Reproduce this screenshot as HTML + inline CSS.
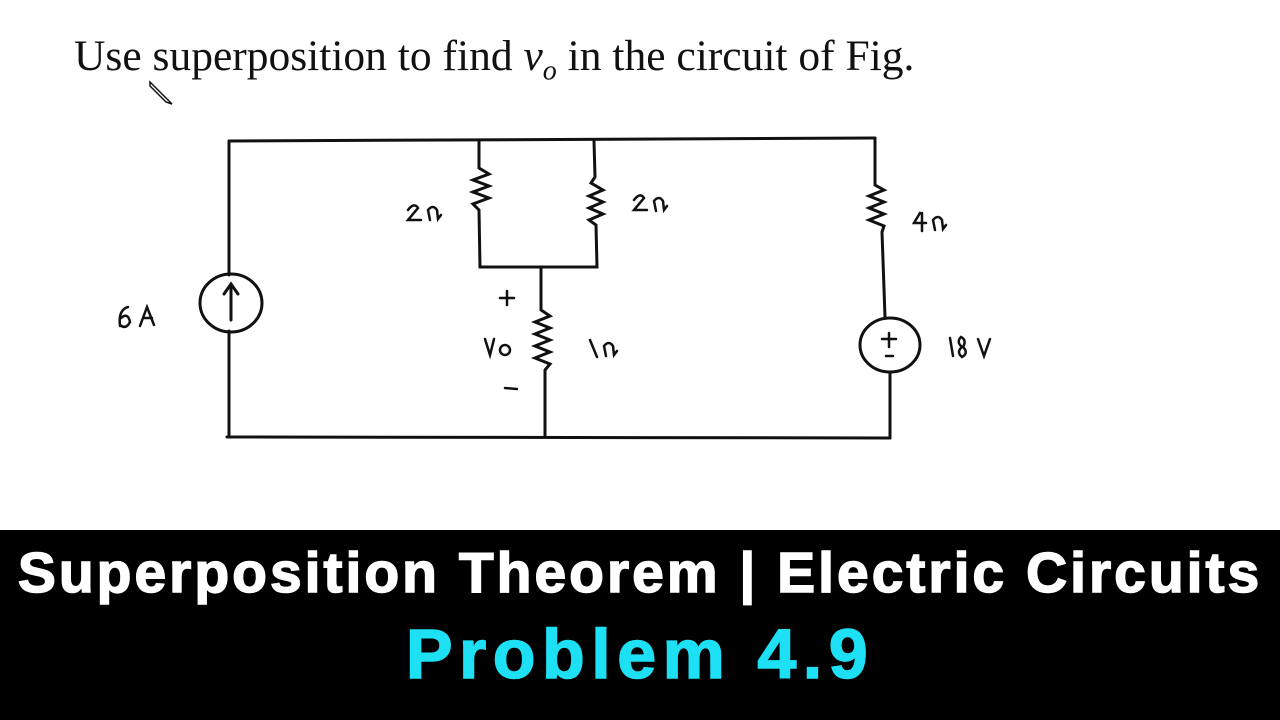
<!DOCTYPE html>
<html><head><style>
body{margin:0;width:1280px;height:720px;background:#fff;overflow:hidden;position:relative;font-family:"Liberation Sans",sans-serif}
.q{position:absolute;left:74px;top:31px;font-family:"Liberation Serif",serif;font-size:43.5px;color:#111;white-space:nowrap}
.band{position:absolute;left:0;top:530px;width:1280px;height:190px;background:#000}
.t1{position:absolute;left:0;width:1280px;text-align:center;top:540px;color:#fff;font-weight:bold;font-size:57px;letter-spacing:3px;-webkit-text-stroke:1.5px #fff;white-space:nowrap}
.t2{position:absolute;left:0;width:1280px;text-align:center;top:614px;color:#1ee0f5;font-weight:bold;font-size:70px;letter-spacing:6.5px;-webkit-text-stroke:1.5px #1ee0f5}
svg{position:absolute;left:0;top:0}
</style></head><body>
<div class="q">Use superposition to find <i>v<sub style="font-size:28px">o</sub></i> in the circuit of Fig.</div>
<svg width="1280" height="530" fill="none" stroke="#111" stroke-width="3" stroke-linecap="round">
<path d="M150 82 L168 100 L172 104 L166 102 L150 86 Z" stroke-width="1.5"/>
<path d="M229 141 L875 138 M229 141 L229 275 M229 331 L229 437 M227 437 L890 438"/>
<ellipse cx="231" cy="303" rx="31" ry="29"/>
<path d="M231 320 L231 285 M224 294 L231 284 L238 294"/>
<path d="M479 141 L479 168 L489 174 L473 180 L489 186 L473 192 L489 198 L473 204 L479 210 L480 267 L597 267 L596 225 L589 220 L603 214 L589 208 L603 202 L589 196 L603 190 L591 183 L595 177 L594 141"/>
<path d="M541 267 L541 310 L550 316 L535 322 L550 328 L535 334 L550 340 L535 346 L550 352 L535 358 L550 364 L545 370 L545 437"/>
<path d="M875 138 L875 185 L884 190 L869 196 L884 202 L869 208 L884 214 L869 220 L884 226 L882 232 L885 317 M890 373 L890 438"/>
<ellipse cx="890" cy="345" rx="30" ry="27"/>
<path d="M889 333 L889 347 M882 339 L896 339 M886 356 L893 356" stroke-width="2.5"/>
<g stroke-width="2.5">
<path d="M120 326 Q118 310 128 307 M121 318 Q128 312 130 322 Q126 330 120 325 M140 326 L147 307 L154 325 M143 318 L152 318"/>
<path d="M408 210 Q414 202 418 208 L408 220 L421 220 M430 220 L428 210 Q433 204 437 210 L438 219 L441 215"/>
<path d="M634 200 Q640 192 644 198 L634 210 L647 210 M656 211 L654 201 Q659 195 663 201 L664 210 L667 206"/>
<path d="M920 213 L914 223 L926 223 M922 213 L922 231 M935 230 L933 220 Q938 214 942 220 L943 229 L946 225"/>
<path d="M500 298 L514 298 M507 291 L507 305 M505 388 L517 389"/>
<path d="M485 339 L490 355 L494 339"/><circle cx="505" cy="350" r="5"/>
<path d="M590 340 L597 357 M606 356 L604 346 Q609 340 613 346 L614 355 L617 351"/>
<path d="M950 338 L953 356 M962 347 Q956 342 961 337 Q967 340 963 347 Q969 353 962 357 Q956 352 962 347 M978 339 L984 356 L990 339"/>
</g>
</svg>
<div class="band"></div>
<div class="t1">Superposition Theorem | Electric Circuits</div>
<div class="t2">Problem 4.9</div>
</body></html>
